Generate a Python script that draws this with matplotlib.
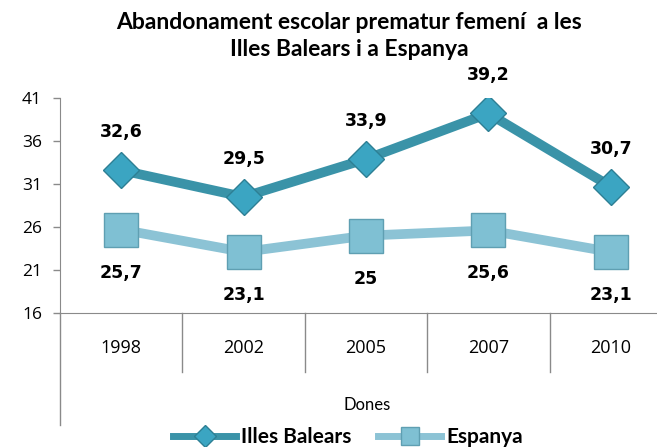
import matplotlib
matplotlib.use('Agg')
import matplotlib.pyplot as plt
from matplotlib.lines import Line2D

# Data
years = ['1998', '2002', '2005', '2007', '2010']
illes_balears = [32.6, 29.5, 33.9, 39.2, 30.7]
espanya = [25.7, 23.1, 25.0, 25.6, 23.1]
ib_labels = ['32,6', '29,5', '33,9', '39,2', '30,7']
es_labels = ['25,7', '23,1', '25', '25,6', '23,1']
yticks = [16, 21, 26, 31, 36, 41]

ib_line = '#3a93a8'
ib_marker = '#3ba5c2'
es_line = '#8cc3d5'
es_marker = '#7fc0d3'
axis_gray = '#8a8a8a'

W, H = 657, 447
fig = plt.figure(figsize=(W / 100, H / 100), dpi=100)
# plot area runs past the right edge of the picture, as in the original
ax = fig.add_axes([60 / W, 1 - 313 / H, 612 / W, 215 / H])

x = list(range(len(years)))
ax.plot(x, illes_balears, color=ib_line, lw=7, marker='D', ms=18,
        mfc=ib_marker, mec='#2d7f94', mew=1, zorder=3)
ax.plot(x, espanya, color=es_line, lw=7, marker='s', ms=25,
        mfc=es_marker, mec='#5f9fb2', mew=1, zorder=3)

for i in x:
    ax.annotate(ib_labels[i], (i, illes_balears[i]), xytext=(0, 38),
                textcoords='offset pixels', ha='center', va='center',
                fontsize=12.5, fontweight='bold', family='DejaVu Sans')
    ax.annotate(es_labels[i], (i, espanya[i]), xytext=(0, -43),
                textcoords='offset pixels', ha='center', va='center',
                fontsize=12.5, fontweight='bold', family='DejaVu Sans')

ax.set_xlim(-0.5, len(years) - 0.5)
ax.set_ylim(16, 41)
ax.set_yticks(yticks)
ax.set_yticklabels([str(t) for t in yticks], fontsize=12.5, family='Open Sans')
ax.set_xticks(x)
ax.set_xticklabels(years, fontsize=13, family='Open Sans')
ax.tick_params(axis='x', length=0, pad=19)
ax.tick_params(axis='y', length=5, color=axis_gray, width=1, pad=8)

for s in ['top', 'right']:
    ax.spines[s].set_visible(False)
ax.spines['left'].set_color(axis_gray)
ax.spines['bottom'].set_color(axis_gray)
ax.spines['left'].set_bounds(16, 41)

# category table lines below the axis
tr = ax.get_xaxis_transform()
for d in [0.5, 1.5, 2.5, 3.5]:
    ax.plot([d, d], [0, -59 / 215], color=axis_gray, lw=1, transform=tr, clip_on=False)
ax.plot([-0.5, -0.5], [0, -112 / 215], color=axis_gray, lw=1, transform=tr, clip_on=False)

fig.text(349 / W, 1 - 36 / H, 'Abandonament escolar prematur femení  a les\nIlles Balears i a Espanya',
         ha='center', va='center', fontsize=16.5, fontweight='bold', family='Lato',
         linespacing=1.35)
fig.text(367 / W, 1 - 405 / H, 'Dones', ha='center', va='center', fontsize=12, family='Lato')

handles = [
    Line2D([], [], color=ib_line, lw=5, marker='D', ms=11, mfc=ib_marker, mec='#2d7f94'),
    Line2D([], [], color=es_line, lw=5, marker='s', ms=13, mfc=es_marker, mec='#5f9fb2'),
]
fig.legend(handles, ['Illes Balears', 'Espanya'], loc='center', ncol=2,
           bbox_to_anchor=(348 / W, 1 - 437 / H), frameon=False,
           prop={'family': 'Lato', 'weight': 'bold', 'size': 15},
           handlelength=3.0, handletextpad=0.25, columnspacing=1.3)

fig.savefig('out.png', dpi=100)
